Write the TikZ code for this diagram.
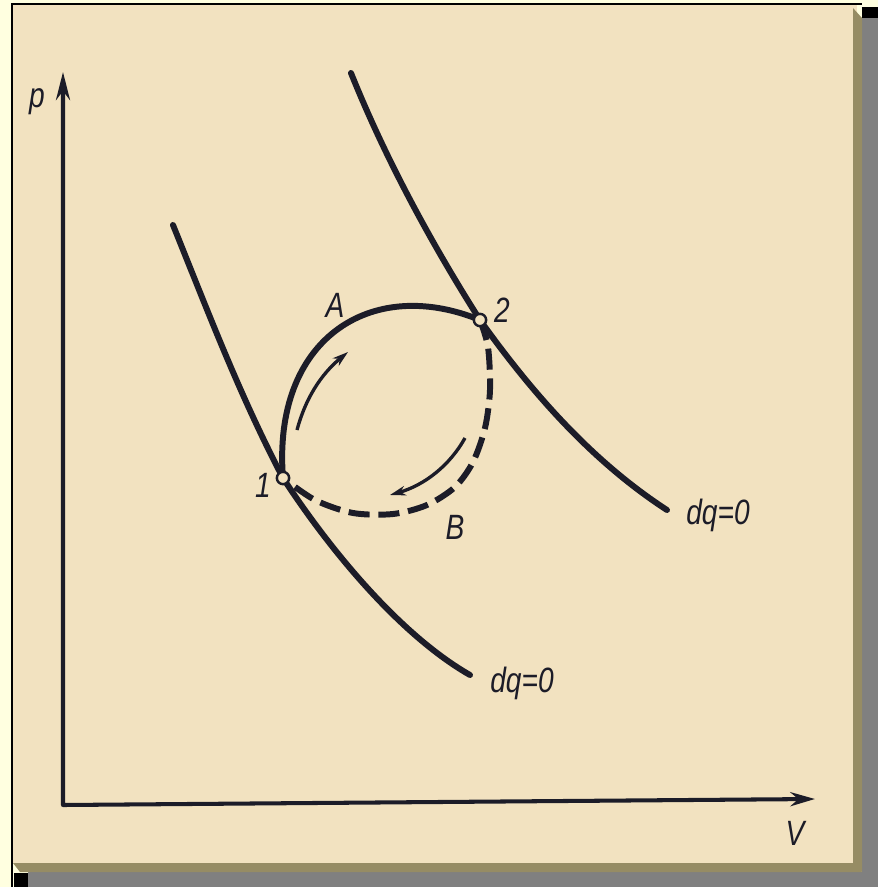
\documentclass[tikz,border=0pt]{standalone}
\usepackage{fontspec}
\usepackage{tikz}
\usetikzlibrary{arrows.meta}
\newfontfamily\labelfont[FakeStretch=0.8]{Liberation Sans}
\definecolor{paper}{RGB}{242, 226, 192}
\definecolor{frameyellow}{RGB}{255, 255, 224}
\definecolor{shadowgrey}{RGB}{128, 128, 128}
\definecolor{bevel}{RGB}{150, 140, 100}
\definecolor{ink}{RGB}{28, 28, 40}

\begin{document}
\begin{tikzpicture}[x=0.02cm, y=-0.02cm,
        % Set global font for all labels
        font=\labelfont\itshape\fontsize{20}{24}\selectfont,
        % Define reusable styles for the elements of the diagram
        axis/.style={{Stealth[length=16pt, width=8pt]}-{Stealth[length=14pt, width=8pt]}, line width=2.3pt, ink, line join=round},
        adiabat/.style={line width=3.4pt, ink, line cap=round},
        process/.style={line width=3.4pt, ink},
        dashproc/.style={process, dash pattern=on 12pt off 5pt},
        flow/.style={-{Stealth[length=9pt, width=5.5pt]}, line width=1.9pt, ink},
        state/.style={circle, draw=ink, fill=paper, line width=1.4pt, inner sep=0pt, minimum size=7pt},
        label/.style={text=ink}
    ]

    % Paper sheet with its frame and shadow
    \useasboundingbox (0,0) rectangle (878,887);
    \fill[frameyellow] (0,0) rectangle (878,887);
    \fill[shadowgrey] (862,18) rectangle (878,887);
    \fill[shadowgrey] (28,872) rectangle (878,887);
    \fill[black] (862,7) rectangle (878,18);
    \fill[black] (14,873) rectangle (28,887);
    \fill[paper] (13,5) rectangle (857,863);
    \fill[bevel] (853,8) -- (862,18) -- (862,872) -- (853,863) -- cycle;
    \fill[bevel] (13,863) -- (857,863) -- (862,872) -- (20,872) -- cycle;
    \draw[black, line width=0.8pt] (12,887) -- (12,4) -- (862,4);

    % Axes
    \coordinate (o) at (63,805);
    \coordinate (pend) at (63,72);
    \coordinate (vend) at (815,799);
    \draw[axis] (pend) -- (o) -- (vend);
    \node[label] (plabel) at (37,102) {p};
    \node[label] (vlabel) at (795,833) {V};

    % States 1 and 2
    \coordinate (s1) at (283,478);
    \coordinate (s2) at (480,320);

    % Adiabats through the two states
    \draw[adiabat] (351,73) .. controls (384,155) and (428,238) .. (s2)
        .. controls (530,390) and (590,460) .. (667,510);
    \draw[adiabat] (173,225) .. controls (207,309) and (239,394) .. (s1)
        .. controls (330,550) and (400,635) .. (470,675);

    % Process 1-A-2 and 2-B-1
    \draw[process] (s1) .. controls (272,340) and (370,275) .. (s2);
    \draw[dashproc] plot[smooth] coordinates {(s2) (488,347) (490,390) (485,428) (473,462) (455,487)
        (427,505) (393,514) (353,513) (315,500) (s1)};

    % Direction of the cycle
    \draw[flow] (297,430) .. controls (305,400) and (320,375) .. (348,352);
    \draw[flow] (465,438) .. controls (450,465) and (425,485) .. (390,495);

    \node[state] (p1) at (s1) {};
    \node[state] (p2) at (s2) {};

    % Labels
    \node[label] (n1) at (263,485) {1};
    \node[label] (n2) at (502,310) {2};
    \node[label] (la) at (335,305) {A};
    \node[label] (lb) at (455,527) {B};
    \node[label] (dq2) at (718,515) {dq=0};
    \node[label] (dq1) at (522,683) {dq=0};

\end{tikzpicture}
\end{document}
